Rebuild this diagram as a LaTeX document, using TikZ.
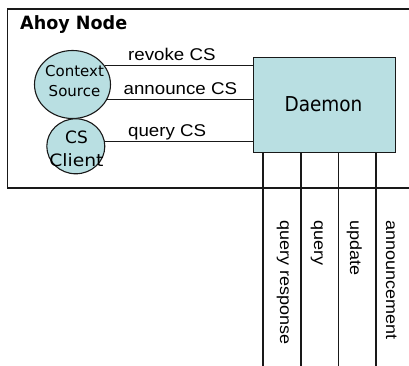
\documentclass[tikz,border=0pt]{standalone}
\usepackage{fontspec}
\setmainfont{DejaVu Sans}
\newfontfamily\labfont{Liberation Sans}[FakeStretch=1.1]
\newfontfamily\vlabfont{Liberation Sans}
\usetikzlibrary{shapes.geometric}
\definecolor{tealfill}{RGB}{185,223,226}
\definecolor{linecol}{RGB}{25,25,25}
\begin{document}
\begin{tikzpicture}[x=1pt,y=-1pt,
  edge/.style={draw=linecol, line width=1.1pt},
  blob/.style={ellipse, draw=linecol, line width=1.1pt, fill=tealfill, inner sep=0pt},
  hlab/.style={inner sep=0pt, anchor=base west, font=\labfont\fontsize{17}{17}\selectfont},
  vlab/.style={inner sep=0pt, anchor=base west, rotate=-90, font=\vlabfont\fontsize{18}{18}\selectfont},
  ctext/.style={inner sep=0pt, anchor=base, font=\fontsize{15}{15}\selectfont}
]
\useasboundingbox (0,0) rectangle (409,366);
\fill[white] (0,0) rectangle (409,366);
% outer box (open to the right)
\draw[edge] (409,9) -- (7.5,9) -- (7.5,188) -- (409,188);
\node[inner sep=0pt, anchor=base west, font=\bfseries\fontsize{18.3}{18.3}\selectfont] (ahoy) at (20,29.7) {\scalebox{0.96}[1]{Ahoy Node}};
% daemon
\node[draw=linecol, line width=1.1pt, fill=tealfill, minimum width=142pt, minimum height=95pt, inner sep=0pt, anchor=north west] (daemon) at (253.3,56.7) {};
\node[inner sep=0pt, anchor=base, font=\fontsize{20.5}{20.5}\selectfont] (dtext) at (323.5,111.7) {\scalebox{0.9}[1]{Daemon}};
% circles
\node[blob, minimum width=76pt, minimum height=68pt] (cs) at (72.5,84.5) {};
\node[ctext] (cst1) at (74.5,76.7) {Context};
\node[ctext] (cst2) at (74.5,96.7) {Source};
\node[blob, minimum width=58pt, minimum height=55pt] (cl) at (75.8,146.3) {};
\node[ctext, font=\fontsize{17}{17}\selectfont] (clt1) at (76.5,143.3) {CS};
\node[ctext, font=\fontsize{17}{17}\selectfont] (clt2) at (76.5,166.5) {\scalebox{1.1}[1]{Client}};
% horizontal connectors
\draw[edge] (cs.30) -- (cs.30 -| daemon.west);
\draw[edge] (cs.-23) -- (cs.-23 -| daemon.west);
\draw[edge] (cl.10) -- (cl.10 -| daemon.west);
\node[hlab] (l1) at (128,61) {revoke CS};
\node[hlab] (l2) at (123.5,95) {announce CS};
\node[hlab] (l3) at (128,137) {query CS};
% vertical connectors
\coordinate (e1) at (263,366);
\coordinate (e2) at (301,366);
\coordinate (e3) at (338.5,366);
\coordinate (e4) at (376,366);
\foreach \e in {e1,e2,e3,e4} \draw[edge] (\e |- daemon.south) -- (\e);
\node[vlab] (v1) at (280,220) {\scalebox{1}[0.9]{query response}};
\node[vlab] (v2) at (314,220) {\scalebox{1}[0.9]{query}};
\node[vlab] (v3) at (350,220) {\scalebox{1}[0.9]{update}};
\node[vlab] (v4) at (386,220) {\scalebox{1}[0.9]{announcement}};
\end{tikzpicture}
\end{document}
